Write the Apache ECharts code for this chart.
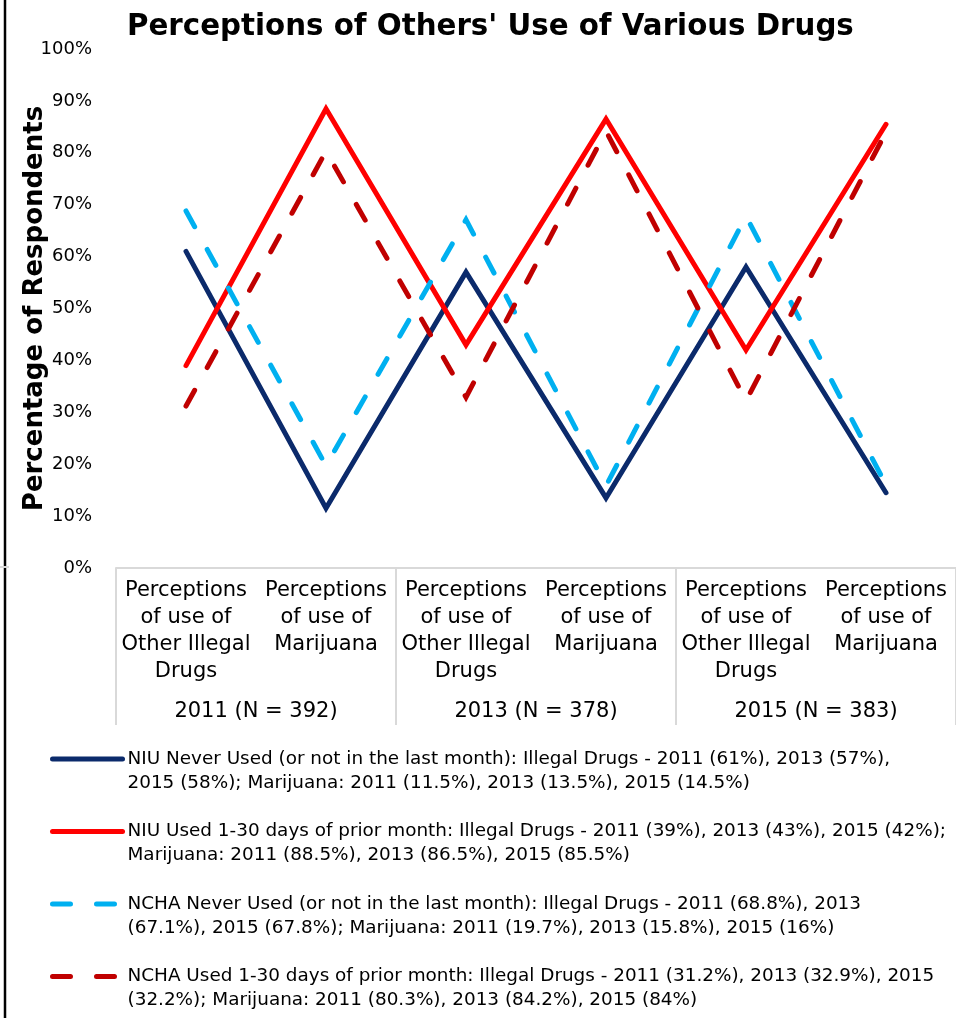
<!DOCTYPE html>
<html>
<head>
<meta charset="utf-8">
<script src="https://cdn.jsdelivr.net/npm/echarts@6/dist/echarts.min.js"></script>
<style>
html,body{margin:0;padding:0;background:#fff;}
#chart{width:956px;height:1018px;}
</style>
</head>
<body>
<div id="chart"></div>
<script>
// ---- data ----
const categories = [
  'Perceptions\nof use of\nOther Illegal\nDrugs', 'Perceptions\nof use of\nMarijuana',
  'Perceptions\nof use of\nOther Illegal\nDrugs', 'Perceptions\nof use of\nMarijuana',
  'Perceptions\nof use of\nOther Illegal\nDrugs', 'Perceptions\nof use of\nMarijuana'
];
const groups = ['2011 (N = 392)', '2013 (N = 378)', '2015 (N = 383)'];
const yTicks = ['0%','10%','20%','30%','40%','50%','60%','70%','80%','90%','100%'];

const niuNever = [61, 11.5, 57, 13.5, 58, 14.5];
const niuUsed = [39, 88.5, 43, 86.5, 42, 85.5];
const nchaNever = [68.8, 19.7, 67.1, 15.8, 67.8, 16];
const nchaUsed = [31.2, 80.3, 32.9, 84.2, 32.2, 84];

const legendLines = [
  ['NIU Never Used (or not in the last month): Illegal Drugs - 2011 (61%), 2013 (57%),', '2015 (58%); Marijuana: 2011 (11.5%), 2013 (13.5%), 2015 (14.5%)'],
  ['NIU Used 1-30 days of prior month: Illegal Drugs - 2011 (39%), 2013 (43%), 2015 (42%);', 'Marijuana: 2011 (88.5%), 2013 (86.5%), 2015 (85.5%)'],
  ['NCHA Never Used (or not in the last month): Illegal Drugs - 2011 (68.8%), 2013', '(67.1%), 2015 (67.8%); Marijuana: 2011 (19.7%), 2013 (15.8%), 2015 (16%)'],
  ['NCHA Used 1-30 days of prior month: Illegal Drugs - 2011 (31.2%), 2013 (32.9%), 2015', '(32.2%); Marijuana: 2011 (80.3%), 2013 (84.2%), 2015 (84%)']
];
const seriesNames = legendLines.map(l => l.join(' '));
const seriesValues = [niuNever, niuUsed, nchaNever, nchaUsed];
const seriesColors = ['#0B2A6B', '#FF0000', '#00B0F0', '#C00000'];
const seriesDashed = [false, false, true, true];

const FONT = 'DejaVu Sans';
const chart = echarts.init(document.getElementById('chart'));

const series = seriesNames.map((name, i) => ({
  name: name,
  type: 'line',
  data: seriesValues[i],
  symbol: 'none',
  showSymbol: false,
  smooth: false,
  lineStyle: {
    color: seriesColors[i],
    width: 5,
    type: seriesDashed[i] ? [18, 26] : 'solid',
    cap: 'round',
    join: 'miter'
  },
  itemStyle: { color: seriesColors[i] }
}));

const option = {
  animation: false,
  backgroundColor: '#fff',
  title: {
    text: "Perceptions of Others' Use of Various Drugs",
    left: 127,
    top: 13,
    padding: 0,
    textStyle: { fontFamily: FONT, fontSize: 29.3, fontWeight: 'bold', color: '#000' }
  },
  grid: { left: 116, right: 0, top: 49, bottom: 450, containLabel: false, outerBoundsMode: 'none' },
  legend: {
    orient: 'vertical',
    left: 50,
    top: 723,
    padding: 0,
    itemGap: 0.5,
    itemWidth: 70,
    itemHeight: 14,
    lineStyle: { width: 5, cap: 'round' },
    itemStyle: { opacity: 0, borderWidth: 0 },
    textStyle: { fontFamily: FONT, fontSize: 18.4, lineHeight: 24, color: '#000' },
    formatter: function (name) {
      const idx = seriesNames.indexOf(name);
      return '\n' + legendLines[idx].join('\n');
    },
    data: seriesNames
  },
  xAxis: [
    {
      type: 'category',
      data: categories,
      position: 'bottom',
      boundaryGap: true,
      axisLine: { show: true, lineStyle: { color: '#d9d9d9', width: 2 } },
      axisTick: { show: false },
      axisLabel: { interval: 0, margin: 9, fontFamily: FONT, fontSize: 21, lineHeight: 27, color: '#000', align: 'center' },
      splitLine: { show: false }
    },
    {
      type: 'category',
      data: groups,
      position: 'bottom',
      boundaryGap: true,
      axisLine: { show: false },
      axisTick: { show: true, length: 157, lineStyle: { color: '#d9d9d9', width: 2 } },
      axisLabel: { interval: 0, margin: 133, fontFamily: FONT, fontSize: 21, lineHeight: 22, color: '#000' },
      splitLine: { show: false }
    }
  ],
  yAxis: {
    type: 'value',
    min: 0,
    max: 100,
    interval: 10,
    name: 'Percentage of Respondents',
    nameLocation: 'middle',
    nameGap: 68,
    nameMoveOverlap: false,
    nameRotate: 90,
    nameTextStyle: { fontFamily: FONT, fontSize: 26, fontWeight: 'bold', color: '#000' },
    axisLine: { show: false },
    axisTick: { show: false },
    splitLine: { show: false },
    axisLabel: {
      margin: 24,
      fontFamily: FONT,
      fontSize: 18,
      color: '#000',
      formatter: function (v) { return yTicks[Math.round(v / 10)]; }
    }
  },
  graphic: [
    { type: 'line', shape: { x1: 5, y1: 0, x2: 5, y2: 1018 }, style: { stroke: '#000', lineWidth: 2.5 }, silent: true },
    { type: 'line', shape: { x1: 0, y1: 567, x2: 9, y2: 567 }, style: { stroke: '#d9d9d9', lineWidth: 2 }, silent: true }
  ],
  series: series
};
chart.setOption(option);
</script>
</body>
</html>
